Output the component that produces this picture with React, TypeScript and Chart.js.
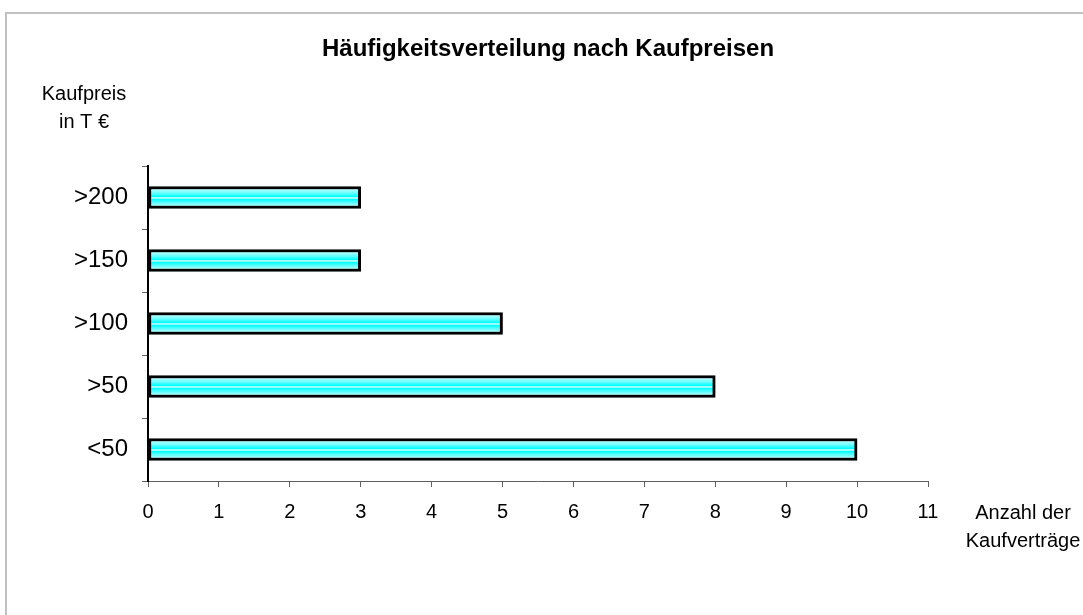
import React, { useEffect, useRef } from "react";
import { Chart, registerables } from "chart.js";

Chart.register(...registerables);

const categories = ["<50", ">50", ">100", ">150", ">200"];
const counts = [10, 8, 5, 3, 3];
const xTicks = [0, 1, 2, 3, 4, 5, 6, 7, 8, 9, 10, 11];
const titleText = "Häufigkeitsverteilung nach Kaufpreisen";
const yAxisTitle = ["Kaufpreis", "in T €"];
const xAxisTitle = ["Anzahl der", "Kaufverträge"];

const FONT = "'Liberation Sans', Arial, sans-serif";
const BAR_THICKNESS = 22;

const decorPlugin = {
  id: "decor",
  beforeDraw(chart: any) {
    const ctx = chart.ctx;
    ctx.save();
    ctx.fillStyle = "#ffffff";
    ctx.fillRect(0, 0, chart.width, chart.height);
    // outer frame
    ctx.strokeStyle = "#c0c0c0";
    ctx.lineWidth = 2;
    ctx.beginPath();
    ctx.moveTo(6, chart.height + 5);
    ctx.lineTo(6, 13);
    ctx.lineTo(chart.width + 5, 13);
    ctx.stroke();
    ctx.restore();
  },
  afterDraw(chart: any) {
    const ctx = chart.ctx;
    ctx.save();
    ctx.fillStyle = "#000";
    ctx.textAlign = "center";
    ctx.textBaseline = "middle";
    ctx.font = `bold 24px ${FONT}`;
    ctx.fillText(titleText, 548, 49);
    ctx.font = `20px ${FONT}`;
    ctx.fillText(yAxisTitle[0], 84, 94);
    ctx.fillText(yAxisTitle[1], 84, 122);
    ctx.fillText(xAxisTitle[0], 1023, 513);
    ctx.fillText(xAxisTitle[1], 1023, 541);
    ctx.restore();
  },
};

function barFill(c: any) {
  const chart = c.chart;
  if (!chart.chartArea || !chart.scales.y) return "#00ffff";
  const yc = chart.scales.y.getPixelForValue(c.dataIndex);
  const top = yc - BAR_THICKNESS / 2;
  const g = chart.ctx.createLinearGradient(0, top, 0, top + BAR_THICKNESS);
  g.addColorStop(0, "#f0ffff");
  g.addColorStop(0.3, "#66ffff");
  g.addColorStop(0.46, "#00ffff");
  g.addColorStop(0.52, "#f4ffff");
  g.addColorStop(0.58, "#00ffff");
  g.addColorStop(0.75, "#66ffff");
  g.addColorStop(1, "#f0ffff");
  return g;
}

export default function App() {
  const ref = useRef<HTMLCanvasElement | null>(null);

  useEffect(() => {
    document.body.style.margin = "0";
    if (!ref.current) return;
    const chart = new Chart(ref.current, {
      type: "bar",
      data: {
        labels: categories,
        datasets: [
          {
            data: counts,
            backgroundColor: barFill,
            borderColor: "#000000",
            borderWidth: 3,
            borderSkipped: false,
            barThickness: BAR_THICKNESS,
          },
        ],
      },
      options: {
        indexAxis: "y",
        animation: false,
        responsive: false,
        devicePixelRatio: 1,
        layout: { padding: { left: 0, right: 155, top: 166, bottom: 0 } },
        plugins: {
          legend: { display: false },
          title: { display: false },
          tooltip: { enabled: false },
        },
        scales: {
          x: {
            min: 0,
            max: 11,
            afterBuildTicks: (s: any) => {
              s.ticks = xTicks.map((v) => ({ value: v }));
            },
            afterFit: (s: any) => {
              s.height = 134;
            },
            ticks: {
              color: "#000",
              padding: 13,
              font: { family: FONT, size: 20 },
            },
            grid: {
              drawOnChartArea: false,
              drawTicks: true,
              tickLength: 6,
              color: "#606060",
            },
            border: { display: true, color: "#606060", width: 1 },
          },
          y: {
            reverse: true,
            afterFit: (s: any) => {
              s.width = 148;
            },
            ticks: {
              color: "#000",
              padding: 14,
              font: { family: FONT, size: 24 },
            },
            grid: {
              drawOnChartArea: false,
              drawTicks: true,
              tickLength: 6,
              color: "#606060",
              offset: true,
            },
            border: { display: true, color: "#000", width: 2 },
          },
        },
      },
      plugins: [decorPlugin],
    });
    return () => chart.destroy();
  }, []);

  return (
    <div style={{ width: 1083, height: 615 }}>
      <canvas ref={ref} width={1083} height={615} style={{ display: "block" }} />
    </div>
  );
}
